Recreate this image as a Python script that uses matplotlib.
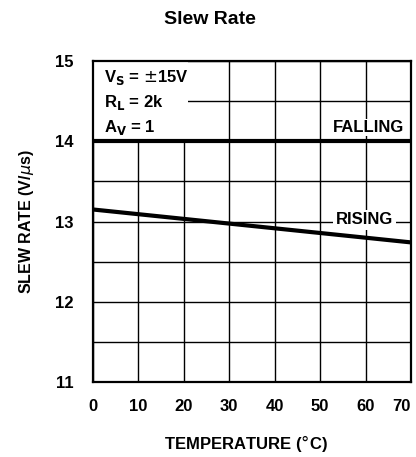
import numpy as np
import matplotlib
matplotlib.use("Agg")
import matplotlib.pyplot as plt

plt.rcParams['font.family'] = ['Liberation Sans', 'DejaVu Sans']

temp = [0, 70]
falling = [14.0, 14.0]
rising = [13.15, 12.74]
xticks = [0, 10, 20, 30, 40, 50, 60, 70]
yticks = [11, 12, 13, 14, 15]

fig = plt.figure(figsize=(4.16, 4.57), dpi=100)
ax = fig.add_axes([0.2236, 0.164, 0.7644, 0.7025])

ax.set_xlim(0, 70)
ax.set_ylim(11, 15)
ax.set_xticks(xticks)
ax.set_yticks(yticks)
ax.set_yticks(np.arange(11, 15.01, 0.5), minor=True)
ax.grid(True, which='both', color='black', linewidth=1.0)
ax.tick_params(which='both', length=0, labelsize=12)
ax.tick_params(axis='x', pad=12)
ax.tick_params(axis='y', pad=14)
for lab in ax.get_xticklabels() + ax.get_yticklabels():
    lab.set_fontweight('bold')
ax.get_xticklabels()[-1].set_horizontalalignment('right')
ax.get_xticklabels()[-1].set_x(70.5)
for s in ax.spines.values():
    s.set_linewidth(1.6)

ax.plot(temp, falling, color='black', linewidth=3.0, zorder=3)
ax.plot(temp, rising, color='black', linewidth=3.0, zorder=3)

# white box under conditions text
ax.add_patch(plt.Rectangle((0.1, 14.02), 20.8, 0.97, facecolor='white',
                           edgecolor='none', zorder=2))
ax.text(2.5, 14.8, r'V$_\mathbf{S}$ = $\pm$15V', fontsize=12, fontweight='bold',
        va='center', zorder=4)
ax.text(2.5, 14.48, r'R$_\mathbf{L}$ = 2k', fontsize=12, fontweight='bold',
        va='center', zorder=4)
ax.text(2.5, 14.17, r'A$_\mathbf{V}$ = 1', fontsize=12, fontweight='bold',
        va='center', zorder=4)

ax.text(68.5, 14.17, 'FALLING', fontsize=12, fontweight='bold', ha='right',
        va='center', zorder=4,
        bbox=dict(facecolor='white', edgecolor='none', pad=1))
ax.text(66.0, 13.02, 'RISING', fontsize=12, fontweight='bold', ha='right',
        va='center', zorder=4,
        bbox=dict(facecolor='white', edgecolor='none', pad=2))

ax.set_xlabel('TEMPERATURE ($\\degree$C)', fontsize=12, fontweight='bold',
              labelpad=14)
ax.xaxis.set_label_coords(0.48, -0.16)
ax.set_ylabel('SLEW RATE (V/$\\mu$s)', fontsize=11.5, fontweight='bold',
              labelpad=14)
fig.text(0.505, 0.958, 'Slew Rate', ha='center', va='center', fontsize=14,
         fontweight='bold')

fig.savefig('out.png', dpi=100)
